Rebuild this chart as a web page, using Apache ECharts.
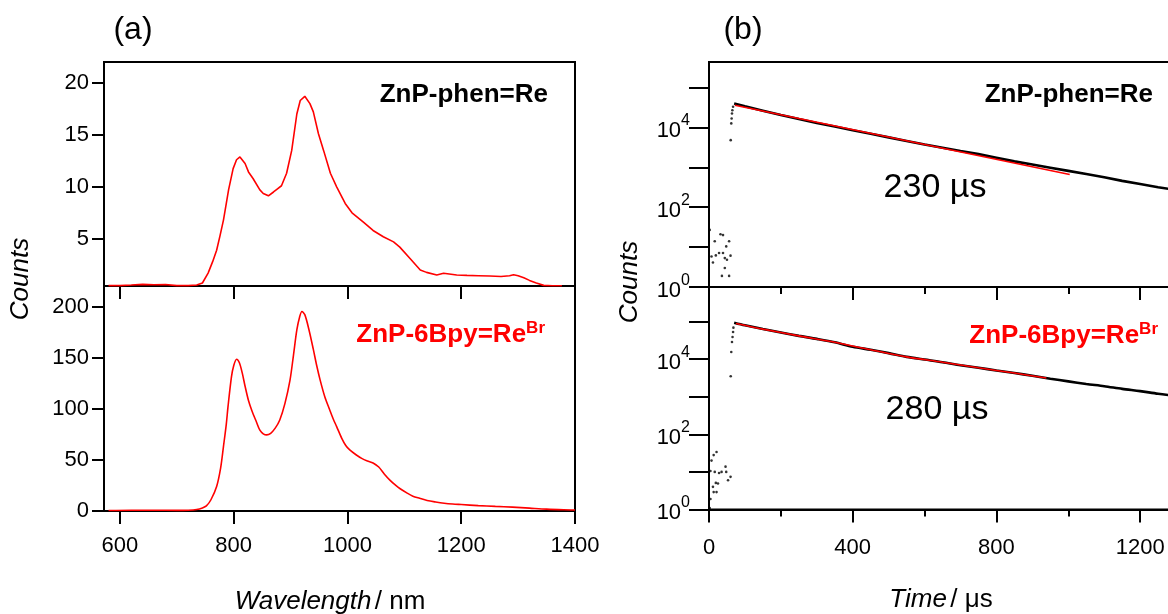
<!DOCTYPE html>
<html><head><meta charset="utf-8">
<script src="https://cdn.jsdelivr.net/npm/echarts@6/dist/echarts.min.js"></script>
<style>html,body{margin:0;padding:0;background:#fff}#c{width:1168px;height:614px}</style>
</head><body><div id="c"></div>
<script>
// ---- (a) emission spectra ----
const wlPhen = [580,600,620,640,660,680,700,720,735,745,755,763,770,776,782,787,791,799,805,811,820,826,834,846,852,861,870,877,884,893,902,911,917,925,934,940,949,958,970,981,996,1008,1028,1045,1063,1081,1092,1110,1128,1139,1157,1169,1192,1210,1230,1250,1270,1285,1292,1300,1310,1320,1332,1345,1360,1377];
const cntPhen = [0.5,0.5,0.55,0.62,0.58,0.6,0.5,0.5,0.55,0.75,1.7,2.8,3.9,5.3,6.8,8.4,9.7,11.75,12.6,12.87,12.24,11.43,10.8,9.7,9.36,9.13,9.5,9.8,10.1,11.3,13.5,17.0,18.3,18.7,18.0,17.2,15.1,13.5,11.3,10.0,8.4,7.5,6.6,5.8,5.2,4.7,4.2,3.1,2.0,1.77,1.52,1.68,1.52,1.48,1.45,1.42,1.38,1.45,1.55,1.45,1.25,1.0,0.75,0.52,0.48,0.48];
const wlBpy = [580,620,660,700,720,735,745,752,760,770,777,782,787,790,796,800,805,810,815,820,826,832,840,846,852,858,865,873,881,890,899,905,911,916,920,925,932,940,946,952,960,968,975,981,990,997,1004,1015,1025,1035,1045,1055,1065,1075,1085,1092,1105,1115,1127,1140,1155,1170,1185,1200,1230,1260,1290,1320,1350,1380,1400];
const cntBpy = [0.5,0.8,0.8,0.6,0.8,1.5,3,5,11,24,42,63,85,102,131,142,148.4,145,135,122,108,98,87,79,75.5,74.4,76,81,89,105,128,152,177,190,195,192,178,158,142,128,112,100,90,82.5,71,64,59.7,55,51.5,49,47,43,36,30,25,22,17.5,14.5,12.4,10.3,8.8,7.6,6.8,6.3,5.3,4.5,3.8,2.8,1.8,1.2,1.0];
const wlTicks = [600,800,1000,1200,1400];
const phenTicks = [5,10,15,20];
const bpyTicks = [0,50,100,150,200];

// ---- (b) emission decays ----
const tPrePhen = [2,7,11,16,19,28,32,36,39,39,44,44,48,50,56,56,60,60.4,62,63,64,65,67];
const cPrePhen = [27,5.8,4.1,14,6.2,7.1,21,1.9,20,7.1,5.3,3.0,10.4,4.8,14,1.9,6.1,4800,12600,16700,22400,27000,33000];
const tDecayPhen = [70,100,150,200,250,300,350,400,450,500,550,600,650,700,750,800,850,900,950,1000,1050,1100,1150,1200,1250,1300];
const cDecayPhen = [39800,33900,26300,20400,16200,12900,10500,8510,6920,5620,4570,3720,3090,2570,2140,1740,1410,1175,977,813,676,562,457,380,316,269];
const tFitPhen = [72,1004];
const cFitPhen = [36000,660];

const tPreBpy = [2,4,4,7,11,13,13,16,19,21,21,25,28,35,46,48,53,60,60.4,62,64,65.5,67,68];
const cPreBpy = [1.1,1.9,10.6,20,4.0,28,2.9,10,5.1,34,2.9,4.9,9.4,10,13.8,10,6.0,7.4,3500,15500,28700,39000,52800,69000];
const tDecayBpy = [70,100,150,200,250,300,350,400,450,500,550,600,650,700,750,800,850,900,950,1000,1050,1100,1150,1200,1250,1300];
const cDecayBpy = [93300,79400,63100,51300,41700,34700,28200,21400,17800,14500,11500,9770,8320,6920,5890,5010,4270,3630,3020,2570,2190,1910,1620,1410,1200,1050];
const tFitBpy = [75,150,250,350,450,550,650,750,850,939];
const cFitBpy = [89000,63100,41700,28200,17800,11500,8320,5890,4270,3160];
const logTicks = [1,10,100,1000,10000,100000];
const logLabels = [1,100,10000];

const zip = (a, b) => a.map((v, i) => [v, b[i]]);
const FONT = "'Liberation Sans', Arial, sans-serif";
const RED = '#ff0000';

const chart = echarts.init(document.getElementById('c'), null, {renderer: 'canvas'});

const gridBase = {show: true, borderColor: '#000', borderWidth: 2, containLabel: false, outerBoundsMode: 'none'};
const axLine = {show: true, onZero: false, lineStyle: {color: '#000', width: 2}};
const plain = v => String(v);
const lab = {color: '#000', fontSize: 22, fontFamily: FONT, formatter: plain};

function logFmt(v) {
  const e = Math.round(Math.log10(v));
  if (Math.abs(Math.log10(v) - e) > 1e-6 || e % 2 !== 0) return '';
  return '{b|10}{s|' + e + '}';
}
const logRich = {
  b: {fontSize: 22, fontFamily: FONT, color: '#000', padding: [7, 0, 0, 0]},
  s: {fontSize: 16, fontFamily: FONT, color: '#000', padding: [0, 0, 13, 0]}
};

const option = {
  backgroundColor: '#fff',
  animation: false,
  grid: [
    Object.assign({left: 104, top: 62, width: 471, height: 224}, gridBase),
    Object.assign({left: 104, top: 286, width: 471, height: 225}, gridBase),
    Object.assign({left: 709, top: 62, width: 503, height: 225}, gridBase),
    Object.assign({left: 709, top: 287, width: 503, height: 222.5}, gridBase)
  ],
  xAxis: [
    {type: 'value', gridIndex: 0, min: 572, max: 1400, axisLine: axLine, splitLine: {show: false},
     axisTick: {show: true, length: 13, lineStyle: {width: 2, color: '#000'}, customValues: wlTicks},
     axisLabel: {show: false, customValues: wlTicks}},
    {type: 'value', gridIndex: 1, min: 572, max: 1400, axisLine: axLine, splitLine: {show: false},
     axisTick: {show: true, length: 13, lineStyle: {width: 2, color: '#000'}, customValues: wlTicks},
     axisLabel: Object.assign({margin: 24, customValues: wlTicks}, lab)},
    {type: 'value', gridIndex: 2, min: 0, max: 1400, interval: 400, axisLine: axLine, splitLine: {show: false},
     axisTick: {show: true, length: 13, lineStyle: {width: 2, color: '#000'}},
     minorTick: {show: true, splitNumber: 2, length: 7, lineStyle: {width: 2, color: '#000'}},
     axisLabel: {show: false}},
    {type: 'value', gridIndex: 3, min: 0, max: 1400, interval: 400, axisLine: axLine, splitLine: {show: false},
     axisTick: {show: true, length: 13, lineStyle: {width: 2, color: '#000'}},
     minorTick: {show: true, splitNumber: 2, length: 7, lineStyle: {width: 2, color: '#000'}},
     axisLabel: Object.assign({margin: 27}, lab)}
  ],
  yAxis: [
    {type: 'value', gridIndex: 0, min: 0.46, max: 22, axisLine: axLine, splitLine: {show: false},
     axisTick: {show: true, length: 12, lineStyle: {width: 2, color: '#000'}, customValues: phenTicks},
     axisLabel: Object.assign({margin: 15, customValues: phenTicks}, lab)},
    {type: 'value', gridIndex: 1, min: 0, max: 220, axisLine: axLine, splitLine: {show: false},
     axisTick: {show: true, length: 12, lineStyle: {width: 2, color: '#000'}, customValues: bpyTicks},
     axisLabel: Object.assign({margin: 15, customValues: bpyTicks}, lab)},
    {type: 'log', logBase: 10, gridIndex: 2, min: 1, max: 436000, axisLine: axLine, splitLine: {show: false},
     axisTick: {show: true, length: 20, lineStyle: {width: 2, color: '#000'}, customValues: logTicks},
     axisLabel: {margin: 19, formatter: logFmt, rich: logRich, customValues: logLabels}},
    {type: 'log', logBase: 10, gridIndex: 3, min: 1, max: 832000, axisLine: axLine, splitLine: {show: false},
     axisTick: {show: true, length: 20, lineStyle: {width: 2, color: '#000'}, customValues: logTicks},
     axisLabel: {margin: 19, formatter: logFmt, rich: logRich, customValues: logLabels}}
  ],
  series: [
    {type: 'line', xAxisIndex: 0, yAxisIndex: 0, data: zip(wlPhen, cntPhen), showSymbol: false, smooth: false,
     lineStyle: {color: RED, width: 1.6}, itemStyle: {color: RED}},
    {type: 'line', xAxisIndex: 1, yAxisIndex: 1, data: zip(wlBpy, cntBpy), showSymbol: false, smooth: 0.3,
     lineStyle: {color: RED, width: 1.6}, itemStyle: {color: RED}},
    {type: 'scatter', xAxisIndex: 2, yAxisIndex: 2, data: zip(tPrePhen, cPrePhen), symbolSize: 2.6,
     itemStyle: {color: '#000'}},
    {type: 'line', xAxisIndex: 2, yAxisIndex: 2, data: zip(tDecayPhen, cDecayPhen), showSymbol: false,
     lineStyle: {color: '#000', width: 2.6}},
    {type: 'line', xAxisIndex: 2, yAxisIndex: 2, data: zip(tFitPhen, cFitPhen), showSymbol: false,
     lineStyle: {color: RED, width: 1.6}},
    {type: 'scatter', xAxisIndex: 3, yAxisIndex: 3, data: zip(tPreBpy, cPreBpy), symbolSize: 2.6,
     itemStyle: {color: '#000'}},
    {type: 'line', xAxisIndex: 3, yAxisIndex: 3, data: zip(tDecayBpy, cDecayBpy), showSymbol: false, smooth: 0.3,
     lineStyle: {color: '#000', width: 2.6}},
    {type: 'line', xAxisIndex: 3, yAxisIndex: 3, data: zip(tFitBpy, cFitBpy), showSymbol: false, smooth: 0.3,
     lineStyle: {color: RED, width: 1.6}}
  ],
  graphic: [
    {type: 'text', x: 133, y: 30, style: {text: '(a)', font: '32px ' + FONT, fill: '#000', align: 'center', verticalAlign: 'middle'}},
    {type: 'text', x: 743, y: 30, style: {text: '(b)', font: '32px ' + FONT, fill: '#000', align: 'center', verticalAlign: 'middle'}},
    {type: 'text', x: 548, y: 95, style: {text: 'ZnP-phen=Re', font: 'bold 26px ' + FONT, fill: '#000', align: 'right', verticalAlign: 'middle'}},
    {type: 'text', x: 1153, y: 95, style: {text: 'ZnP-phen=Re', font: 'bold 26px ' + FONT, fill: '#000', align: 'right', verticalAlign: 'middle'}},
    {type: 'text', x: 545, y: 335, style: {text: '{m|ZnP-6Bpy=Re}{s|Br}', align: 'right', verticalAlign: 'middle',
      rich: {m: {font: 'bold 26px ' + FONT, fill: RED, color: RED}, s: {font: 'bold 17px ' + FONT, fill: RED, color: RED, padding: [0, 0, 14, 0]}}}},
    {type: 'text', x: 1158, y: 336, style: {text: '{m|ZnP-6Bpy=Re}{s|Br}', align: 'right', verticalAlign: 'middle',
      rich: {m: {font: 'bold 26px ' + FONT, fill: RED, color: RED}, s: {font: 'bold 17px ' + FONT, fill: RED, color: RED, padding: [0, 0, 14, 0]}}}},
    {type: 'text', x: 935, y: 188, style: {text: '230 µs', font: '34px ' + FONT, fill: '#000', align: 'center', verticalAlign: 'middle'}},
    {type: 'text', x: 937, y: 410, style: {text: '280 µs', font: '34px ' + FONT, fill: '#000', align: 'center', verticalAlign: 'middle'}},
    {type: 'text', x: 21, y: 279, rotation: Math.PI / 2, style: {text: 'Counts', font: 'italic 26px ' + FONT, fill: '#000', align: 'center', verticalAlign: 'middle'}},
    {type: 'text', x: 630, y: 282, rotation: Math.PI / 2, style: {text: 'Counts', font: 'italic 26px ' + FONT, fill: '#000', align: 'center', verticalAlign: 'middle'}},
    {type: 'text', x: 330, y: 602, style: {text: '{i|Wavelength} {n|/ nm}', align: 'center', verticalAlign: 'middle',
      rich: {i: {font: 'italic 26px ' + FONT, fill: '#000'}, n: {font: '26px ' + FONT, fill: '#000'}}}},
    {type: 'text', x: 941, y: 600, style: {text: '{i|Time} {n|/ μs}', align: 'center', verticalAlign: 'middle',
      rich: {i: {font: 'italic 26px ' + FONT, fill: '#000'}, n: {font: '26px ' + FONT, fill: '#000'}}}}
  ]
};
chart.setOption(option);
</script>
</body></html>
